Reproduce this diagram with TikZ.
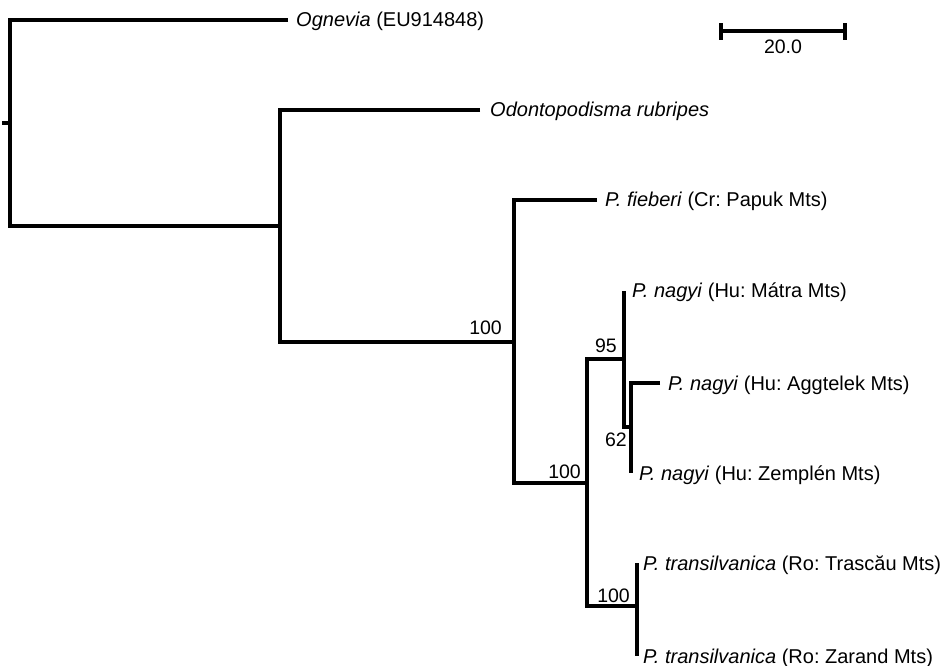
\documentclass[tikz,border=0pt]{standalone}
\usepackage{fontspec}
\setmainfont{Liberation Sans}
\frenchspacing
\begin{document}
\begin{tikzpicture}[x=1pt,y=-1pt,
  branch/.style={line width=3.2pt, line join=miter, line cap=butt},
  taxon/.style={anchor=base west, inner sep=0pt, font=\fontsize{20}{24}\selectfont},
  support/.style={inner sep=0pt, font=\fontsize{19.5}{24}\selectfont}]
\useasboundingbox (0,0) rectangle (946,666);
% internal nodes
\coordinate (stub) at (2,123);
\coordinate (root) at (10,123);
\coordinate (A) at (280,226);
\coordinate (B) at (514,342);
\coordinate (C) at (587,483);
\coordinate (D) at (624,359);
\coordinate (E) at (631,427);
\coordinate (F) at (637,606);
% tips
\coordinate (tOg) at (288,20);
\coordinate (tOd) at (480,110);
\coordinate (tFi) at (597,200);
\coordinate (tMa) at (624,291);
\coordinate (tAg) at (660,383);
\coordinate (tZe) at (631,473);
\coordinate (tTr) at (637,563);
\coordinate (tZa) at (637,656);
% branches
\draw[branch] (stub) -- (root);
\draw[branch] (tOg) -| (root) |- (A);
\draw[branch] (tOd) -| (A) |- (B);
\draw[branch] (tFi) -| (B) |- (C);
\draw[branch] (D) -| (C) |- (F);
\draw[branch] (tMa) -- (D) -- (D |- E) -- (E);
\draw[branch] (tAg) -| (E) -- (tZe);
\draw[branch] (tTr) -- (F) -- (tZa);
% labels
\node[taxon] (lOg) at ([xshift=8pt,yshift=-7pt]tOg) {\textit{Ognevia} (EU914848)};
\node[taxon] (lOd) at ([xshift=10pt,yshift=-7pt]tOd) {\textit{Odontopodisma rubripes}};
\node[taxon] (lFi) at ([xshift=8pt,yshift=-7pt]tFi) {\textit{P. fieberi} (Cr: Papuk Mts)};
\node[taxon] (lMa) at ([xshift=8pt,yshift=-6pt]tMa) {\textit{P. nagyi} (Hu: Mátra Mts)};
\node[taxon] (lAg) at ([xshift=8pt,yshift=-7pt]tAg) {\textit{P. nagyi} (Hu: Aggtelek Mts)};
\node[taxon] (lZe) at ([xshift=8pt,yshift=-7pt]tZe) {\textit{P. nagyi} (Hu: Zemplén Mts)};
\node[taxon] (lTr) at ([xshift=6pt,yshift=-7pt]tTr) {\textit{P. transilvanica} (Ro: Trascău Mts)};
\node[taxon] (lZa) at ([xshift=6pt,yshift=-7pt]tZa) {\textit{P. transilvanica} (Ro: Zarand Mts)};
% supports
\node[support, anchor=base east] (sB) at ([xshift=-12pt,yshift=8pt]B) {100};
\node[support, anchor=base east] (sC) at ([xshift=-6pt,yshift=5pt]C) {100};
\node[support, anchor=base east] (sD) at ([xshift=-7pt,yshift=7pt]D) {95};
\node[support, anchor=north east] (sE) at ([xshift=-4pt,yshift=-6pt]E) {62};
\node[support, anchor=base east] (sF) at ([xshift=-7pt,yshift=4pt]F) {100};
% scale bar
\coordinate (s1) at (721,31);
\coordinate (s2) at (845,31);
\draw[branch] (s1) -- (s2);
\draw[branch] ([yshift=-9pt]s1) -- ([yshift=8pt]s1);
\draw[branch] ([yshift=-9pt]s2) -- ([yshift=8pt]s2);
\node[support, anchor=base] (sl) at (783,54) {20.0};
\end{tikzpicture}
\end{document}
